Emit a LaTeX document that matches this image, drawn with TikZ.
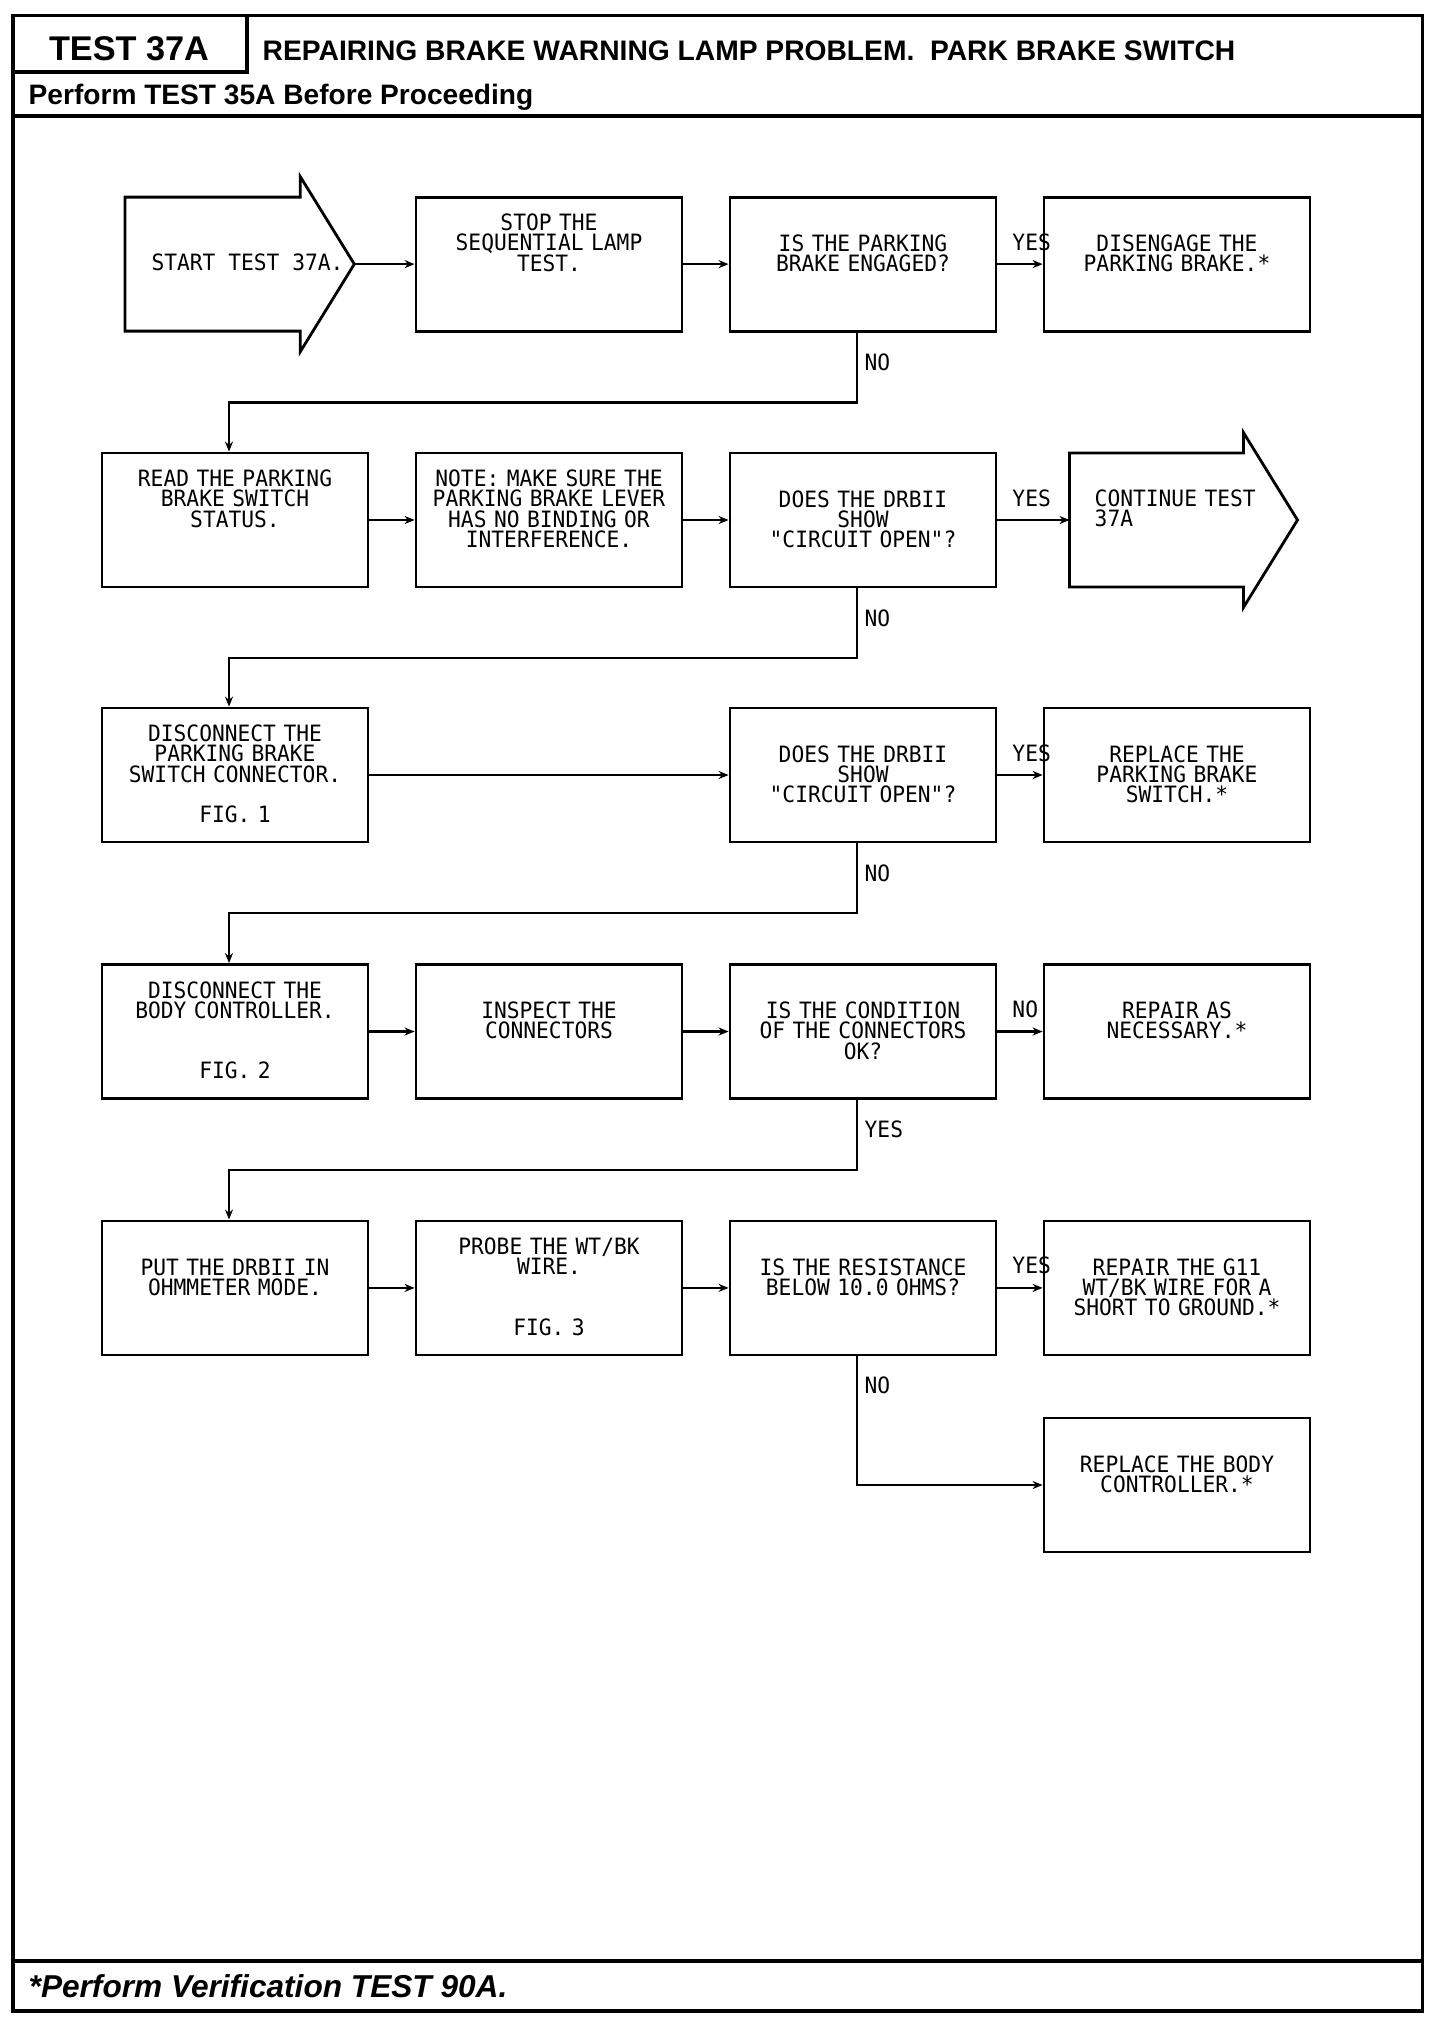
\documentclass[tikz,border=0pt]{standalone}
\usepackage{fontspec}
\usepackage{xcolor}
\usepackage{tikz}
\usetikzlibrary{arrows.meta,calc}
\newfontfamily\plotfont[FakeStretch=0.945]{DejaVu Sans Mono}
\newfontfamily\headfont{Liberation Sans}
\newcommand{\boxfont}{\plotfont\fontsize{6.4}{5.75}\selectfont\lineskiplimit=-4pt}

\begin{document}
\begin{tikzpicture}[
  stepbox/.style={draw,thick,minimum width=2.66cm,minimum height=1.34cm,inner sep=0pt,
    text width=2.6cm,align=center,font=\boxfont,text height=0.3cm,text depth=0.556cm},
  hightext/.style={text height=0.2cm,text depth=0.868cm},
  conn/.style={semithick,-{Stealth[length=0.1cm,width=0.08cm]}},
  lbl/.style={font=\boxfont,inner sep=0pt},
  sidelbl/.style={lbl,pos=0,anchor=base west,xshift=0.14cm,yshift=0.14cm},
  downlbl/.style={lbl,anchor=base west,xshift=0.066cm,yshift=-0.376cm},
  frame/.style={line width=1pt}]
\fill[white] (0,0) rectangle (14.56,-20.20);
\useasboundingbox (0,0) rectangle (14.56,-20.20);
\draw[frame] (0.129,-0.155) rectangle (14.225,-20.11);
\draw[frame] (0.129,-0.72) -| (2.47,-0.155);
\draw[frame] (0.129,-1.16) -- (14.225,-1.16);
\draw[frame] (0.129,-19.61) -- (14.225,-19.61);
\node[anchor=base,inner sep=0pt,font=\headfont\bfseries\fontsize{9.75}{10}\selectfont] (testno) at (1.29,-0.605) {TEST 37A};
\node[anchor=base west,inner sep=0pt,font=\headfont\bfseries\fontsize{8.03}{9}\selectfont] (title) at (2.62,-0.605) {REPAIRING BRAKE WARNING LAMP PROBLEM.\ \ PARK BRAKE SWITCH};
\node[anchor=base west,inner sep=0pt,font=\headfont\bfseries\fontsize{8}{9}\selectfont] (before) at (0.28,-1.044) {Perform TEST 35A Before Proceeding};
\node[anchor=base west,inner sep=0pt,font=\headfont\bfseries\itshape\fontsize{9}{10}\selectfont] (after) at (0.28,-19.97) {*Perform Verification TEST 90A.};
\draw[thick] (1.25,-1.971) -- (3.002,-1.971) -- (3.002,-1.765) -- (3.543,-2.641) -- (3.002,-3.518) -- (3.002,-3.311) -- (1.25,-3.311) -- cycle;
\coordinate (starttip) at (3.543,-2.641);
\node[lbl,anchor=base west] (start) at (1.508,-2.707) {START TEST 37A.};
\draw[thick] (10.695,-4.53) -- (12.434,-4.53) -- (12.434,-4.325) -- (12.975,-5.20) -- (12.434,-6.075) -- (12.434,-5.87) -- (10.695,-5.87) -- cycle;
\coordinate (conttail) at (10.695,-5.20);
\node[lbl,anchor=base west,text width=2.2cm,align=left] (cont) at (10.94,-5.064) {CONTINUE TEST\\37A};
\node[stepbox,hightext] (stop) at (5.49,-2.641) {STOP THE\\SEQUENTIAL LAMP\\TEST.};
\node[stepbox] (engaged) at (8.63,-2.641) {IS THE PARKING\\BRAKE ENGAGED?};
\node[stepbox] (disengage) at (11.77,-2.641) {DISENGAGE THE\\PARKING BRAKE.*};
\node[stepbox,hightext] (read) at (2.35,-5.20) {READ THE PARKING\\BRAKE SWITCH\\STATUS.};
\node[stepbox,hightext] (note) at (5.49,-5.20) {NOTE: MAKE SURE THE\\PARKING BRAKE LEVER\\HAS NO BINDING OR\\INTERFERENCE.};
\node[stepbox] (open1) at (8.63,-5.20) {DOES THE DRBII\\SHOW\\"CIRCUIT OPEN"?};
\node[stepbox,hightext] (unplug) at (2.35,-7.75) {DISCONNECT THE\\PARKING BRAKE\\SWITCH CONNECTOR.\\[5.75pt]FIG. 1};
\node[stepbox] (open2) at (8.63,-7.75) {DOES THE DRBII\\SHOW\\"CIRCUIT OPEN"?};
\node[stepbox] (replace) at (11.77,-7.75) {REPLACE THE\\PARKING BRAKE\\SWITCH.*};
\node[stepbox,hightext] (body) at (2.35,-10.315) {DISCONNECT THE\\BODY CONTROLLER.\\[11.5pt]FIG. 2};
\node[stepbox] (inspect) at (5.49,-10.315) {INSPECT THE\\CONNECTORS};
\node[stepbox] (condition) at (8.63,-10.315) {IS THE CONDITION\\OF THE CONNECTORS\\OK?};
\node[stepbox] (repair) at (11.77,-10.315) {REPAIR AS\\NECESSARY.*};
\node[stepbox] (ohm) at (2.35,-12.879) {PUT THE DRBII IN\\OHMMETER MODE.};
\node[stepbox,hightext] (probe) at (5.49,-12.879) {PROBE THE WT/BK\\WIRE.\\[11.5pt]FIG. 3};
\node[stepbox] (resist) at (8.63,-12.879) {IS THE RESISTANCE\\BELOW 10.0 OHMS?};
\node[stepbox] (short) at (11.77,-12.879) {REPAIR THE G11\\WT/BK WIRE FOR A\\SHORT TO GROUND.*};
\node[stepbox] (newbody) at (11.77,-14.85) {REPLACE THE BODY\\CONTROLLER.*};
\draw[conn] (starttip) -- (stop);
\draw[conn] (stop) -- (engaged);
\draw[conn] (engaged) -- node[sidelbl]{YES} (disengage);
\draw[conn] ([xshift=-0.06cm]engaged.south) node[downlbl]{NO} -- ++(0,-0.70) -| ([xshift=-0.06cm]read.north);
\draw[conn] (read) -- (note);
\draw[conn] (note) -- (open1);
\draw[conn] (open1) -- node[sidelbl]{YES} (conttail);
\draw[conn] ([xshift=-0.06cm]open1.south) node[downlbl]{NO} -- ++(0,-0.70) -| ([xshift=-0.06cm]unplug.north);
\draw[conn] (unplug) -- (open2);
\draw[conn] (open2) -- node[sidelbl]{YES} (replace);
\draw[conn] ([xshift=-0.06cm]open2.south) node[downlbl]{NO} -- ++(0,-0.70) -| ([xshift=-0.06cm]body.north);
\draw[conn] (body) -- (inspect);
\draw[conn] (inspect) -- (condition);
\draw[conn] (condition) -- node[sidelbl]{NO} (repair);
\draw[conn] ([xshift=-0.06cm]condition.south) node[downlbl]{YES} -- ++(0,-0.70) -| ([xshift=-0.06cm]ohm.north);
\draw[conn] (ohm) -- (probe);
\draw[conn] (probe) -- (resist);
\draw[conn] (resist) -- node[sidelbl]{YES} (short);
\draw[conn] ([xshift=-0.06cm]resist.south) node[downlbl]{NO} |- (newbody);
\end{tikzpicture}
\end{document}
